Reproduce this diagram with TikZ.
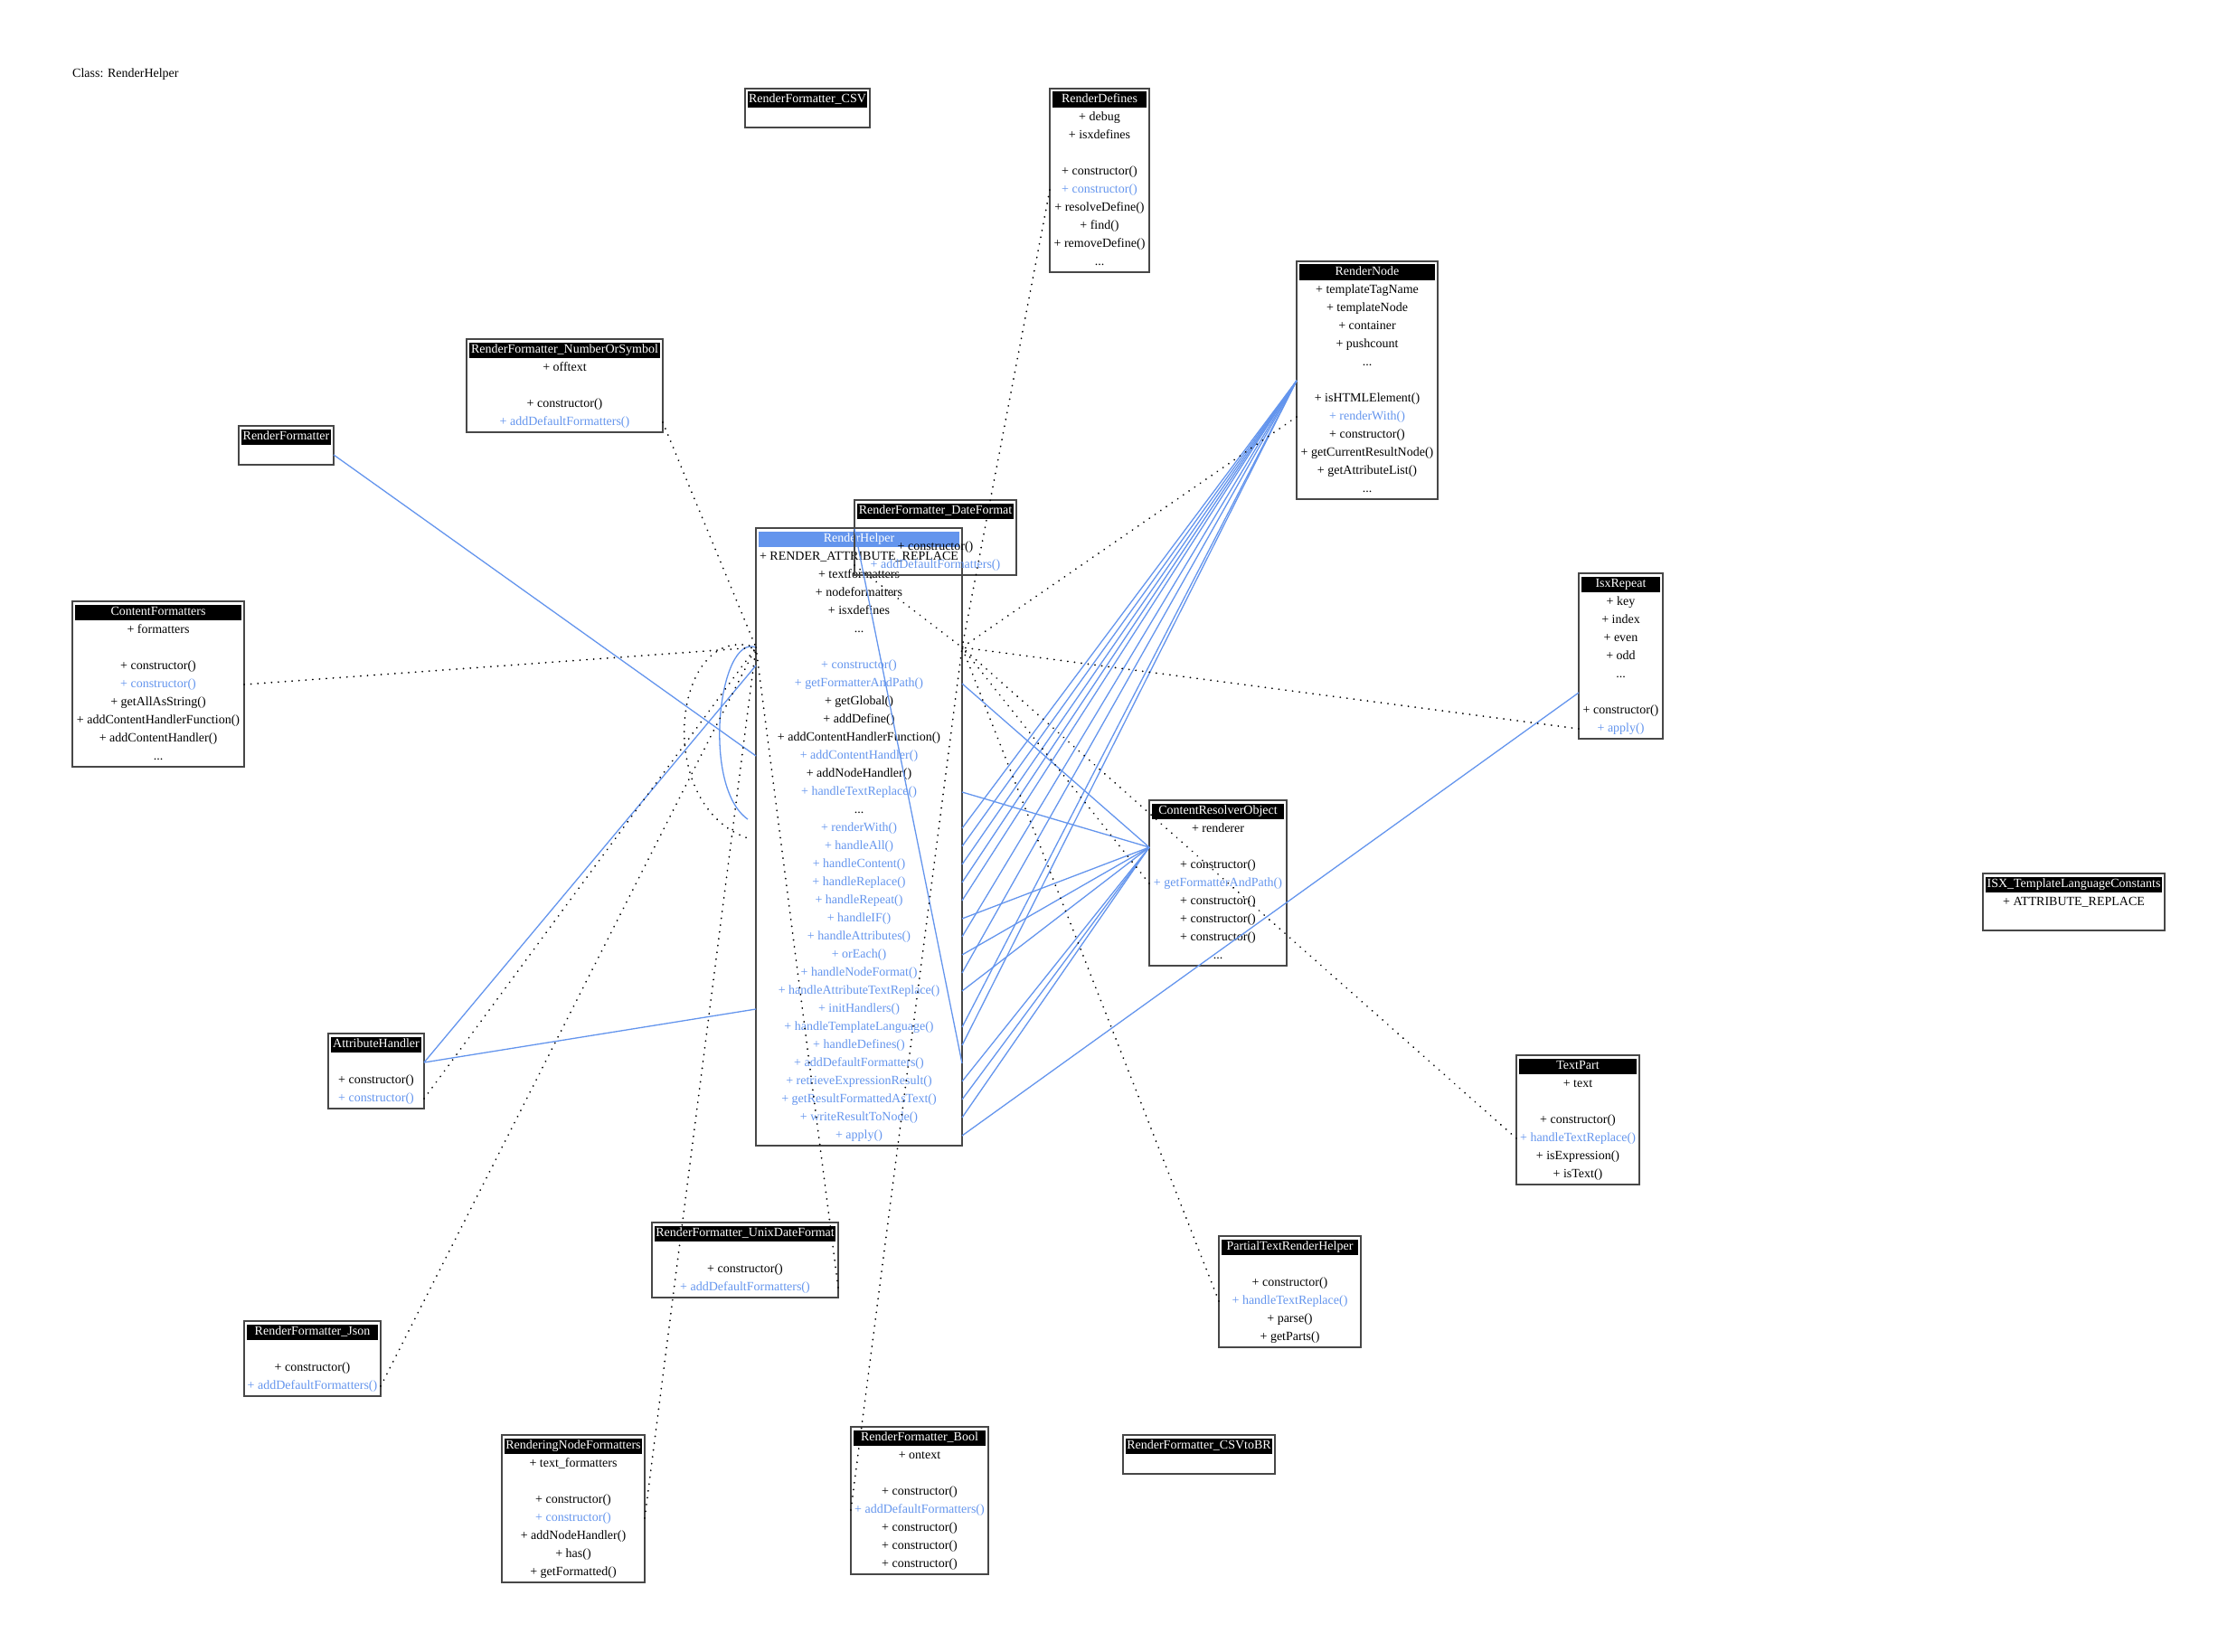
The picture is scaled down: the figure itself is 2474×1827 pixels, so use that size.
\documentclass[tikz,border=0pt]{standalone}
\usepackage{fontspec}
\setmainfont{Liberation Serif}
\usetikzlibrary{calc}
\definecolor{blu}{HTML}{6495ED}
\newcommand{\ellip}{...}

\tikzset{
  classbox/.style={draw=black!72, line width=1.6pt, inner sep=0pt, outer sep=0pt, anchor=north west},
  headtext/.style={text=white, inner sep=0pt, text height=10pt, text depth=3pt},
  rowtext/.style={inner sep=0pt, text height=10pt, text depth=3pt},
  usesline/.style={draw=blu, line width=1.3pt},
  depline/.style={draw=black, line width=1.9pt, line cap=round, dash pattern=on 0.1pt off 7.5pt},
}

% \umlclass[header fill]{name}{left}{right}{top}{rows}{title}{colour/text, ...}
\newcommand{\umlclass}[8][black]{%
  \node[classbox, minimum width={(#4-#3)*1pt}, minimum height={(23+20*#6)*1pt}] (#2) at (#3,#5) {};
  \fill[#1] ({#3+3},{#5+3.5}) rectangle ({#4-3},{#5+21});
  \node[headtext] (#2-head) at ({(#3+#4)/2},{#5+12}) {#7};
  \foreach[count=\rowidx from 0] \rowcol/\rowtxt in {#8} {%
    \pgfmathsetmacro\rowy{#5+32+20*\rowidx}
    \node[rowtext, text=\rowcol] (#2-r\rowidx) at ({(#3+#4)/2},\rowy) {\rowtxt};
    \coordinate (#2-\rowidx-w) at (#3,\rowy);
    \coordinate (#2-\rowidx-e) at (#4,\rowy);
  }%
}

\begin{document}
\begin{tikzpicture}[x=1pt, y=-1pt, font=\fontsize{14}{16}\selectfont]
\useasboundingbox (0,0) rectangle (2474,1827);

\node[rowtext, anchor=west] (title) at (80,82) {Class: RenderHelper};

% ---- classes ----
\umlclass{rfcsv}{824}{962}{98}{1}{RenderFormatter\_CSV}{black/{}}
\umlclass{rdef}{1161}{1271}{98}{9}{RenderDefines}{black/+ debug, black/+ isxdefines, black/{}, black/+ constructor(), blu/+ constructor(), black/+ resolveDefine(), black/+ find(), black/+ removeDefine(), black/\ellip}
\umlclass{rnode}{1434}{1590}{289}{12}{RenderNode}{black/+ templateTagName, black/+ templateNode, black/+ container, black/+ pushcount, black/\ellip, black/{}, black/+ isHTMLElement(), blu/+ renderWith(), black/+ constructor(), black/+ getCurrentResultNode(), black/+ getAttributeList(), black/\ellip}
\umlclass{rfnum}{516}{733}{375}{4}{RenderFormatter\_NumberOrSymbol}{black/+ offtext, black/{}, black/+ constructor(), blu/+ addDefaultFormatters()}
\umlclass{rf}{264}{369}{471}{1}{RenderFormatter}{black/{}}
\umlclass{cf}{80}{270}{665}{8}{ContentFormatters}{black/+ formatters, black/{}, black/+ constructor(), blu/+ constructor(), black/+ getAllAsString(), black/+ addContentHandlerFunction(), black/+ addContentHandler(), black/\ellip}
\umlclass[blu]{rh}{836}{1064}{584}{33}{RenderHelper}{black/+ RENDER\_ATTRIBUTE\_REPLACE, black/+ textformatters, black/+ nodeformatters, black/+ isxdefines, black/\ellip, black/{}, blu/+ constructor(), blu/+ getFormatterAndPath(), black/+ getGlobal(), black/+ addDefine(), black/+ addContentHandlerFunction(), blu/+ addContentHandler(), black/+ addNodeHandler(), blu/+ handleTextReplace(), black/\ellip, blu/+ renderWith(), blu/+ handleAll(), blu/+ handleContent(), blu/+ handleReplace(), blu/+ handleRepeat(), blu/+ handleIF(), blu/+ handleAttributes(), blu/+ orEach(), blu/+ handleNodeFormat(), blu/+ handleAttributeTextReplace(), blu/+ initHandlers(), blu/+ handleTemplateLanguage(), blu/+ handleDefines(), blu/+ addDefaultFormatters(), blu/+ retrieveExpressionResult(), blu/+ getResultFormattedAsText(), blu/+ writeResultToNode(), blu/+ apply()}
\umlclass{rfdate}{945}{1124}{553}{3}{RenderFormatter\_DateFormat}{black/{}, black/+ constructor(), blu/+ addDefaultFormatters()}
\umlclass{ah}{363}{469}{1143}{3}{AttributeHandler}{black/{}, black/+ constructor(), blu/+ constructor()}
\umlclass{cro}{1271}{1423}{885}{8}{ContentResolverObject}{black/+ renderer, black/{}, black/+ constructor(), blu/+ getFormatterAndPath(), black/+ constructor(), black/+ constructor(), black/+ constructor(), black/\ellip}
\umlclass{isx}{1746}{1839}{634}{8}{IsxRepeat}{black/+ key, black/+ index, black/+ even, black/+ odd, black/\ellip, black/{}, black/+ constructor(), blu/+ apply()}
\umlclass{isxc}{2193}{2394}{966}{2}{ISX\_TemplateLanguageConstants}{black/+ ATTRIBUTE\_REPLACE, black/{}}
\umlclass{tp}{1677}{1813}{1167}{6}{TextPart}{black/+ text, black/{}, black/+ constructor(), blu/+ handleTextReplace(), black/+ isExpression(), black/+ isText()}
\umlclass{ptrh}{1348}{1505}{1367}{5}{PartialTextRenderHelper}{black/{}, black/+ constructor(), blu/+ handleTextReplace(), black/+ parse(), black/+ getParts()}
\umlclass{rfunix}{721}{927}{1352}{3}{RenderFormatter\_UnixDateFormat}{black/{}, black/+ constructor(), blu/+ addDefaultFormatters()}
\umlclass{rfjson}{270}{421}{1461}{3}{RenderFormatter\_Json}{black/{}, black/+ constructor(), blu/+ addDefaultFormatters()}
\umlclass{rnf}{555}{713}{1587}{7}{RenderingNodeFormatters}{black/+ text\_formatters, black/{}, black/+ constructor(), blu/+ constructor(), black/+ addNodeHandler(), black/+ has(), black/+ getFormatted()}
\umlclass{rfbool}{941}{1093}{1578}{7}{RenderFormatter\_Bool}{black/+ ontext, black/{}, black/+ constructor(), blu/+ addDefaultFormatters(), black/+ constructor(), black/+ constructor(), black/+ constructor()}
\umlclass{rfcsvbr}{1242}{1410}{1587}{1}{RenderFormatter\_CSVtoBR}{black/{}}

% ---- call links (solid blue) ----
\draw[usesline] (rf-0-e) -- (rh-11-w);
\draw[usesline] (ah-0-e) -- (rh-6-w);
\draw[usesline] (ah-0-e) -- (rh-25-w);
\draw[usesline] (rh-5-w) .. controls +(-41,-16) and +(-52,-36) .. ($(rh-15-w)+(-9,-10)$);
\foreach \r in {15,16,17,18,19,21,23,26,27} \draw[usesline] (rh-\r-e) -- (rnode-5-w);
\foreach \r in {7,13,20,22,24,29,30,31} \draw[usesline] (rh-\r-e) -- (cro-1-w);
\draw[usesline] (rh-32-e) -- (isx-5-w);
\draw[usesline] (rfdate-0-w) -- (rh-28-e);

% ---- dependencies (dotted) ----
\draw[depline] (cf-3-e) -- (rh-5-w);
\draw[depline] (rfnum-3-e) -- (rh-5-w);
\draw[depline] (ah-2-e) -- (rh-5-w);
\draw[depline] (rfjson-2-e) -- (rh-5-w);
\draw[depline] (rnf-3-e) -- (rh-5-w);
\draw[depline] (rfunix-2-e) -- (rh-5-w);
\draw[depline] (rh-5-w) .. controls +(-91,-31) and +(-107,-37) .. ($(rh-16-w)+(-9,-9)$);
\draw[depline] (rdef-4-w) -- (rh-5-e);
\draw[depline] (rnode-7-w) -- (rh-5-e);
\draw[depline] (rfdate-2-w) -- (rh-5-e);
\draw[depline] (isx-7-w) -- (rh-5-e);
\draw[depline] (cro-3-w) -- (rh-5-e);
\draw[depline] (tp-3-w) -- (rh-5-e);
\draw[depline] (ptrh-2-w) -- (rh-5-e);
\draw[depline] (rfbool-3-w) -- (rh-5-e);
\end{tikzpicture}
\end{document}
